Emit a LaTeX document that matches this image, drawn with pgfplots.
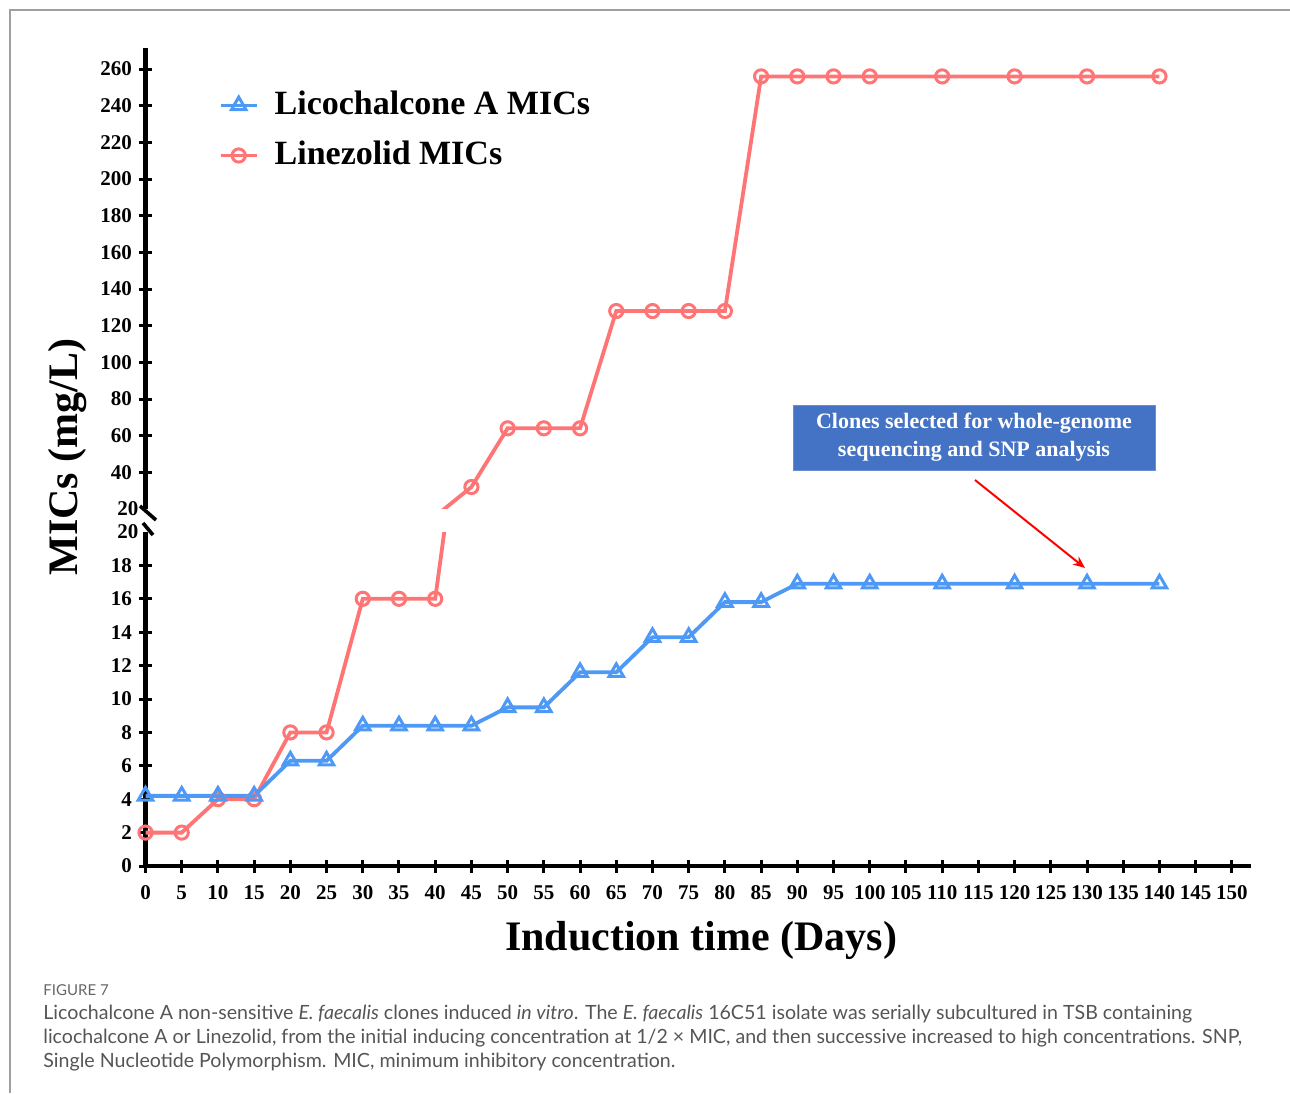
\documentclass[border=0pt]{standalone}
\usepackage{fontspec}
\setmainfont{Liberation Serif}
\newfontfamily\capfont{Lato}
\usepackage{pgfplots}
\usepackage{pgfplotstable}
\pgfplotsset{compat=1.18}
\usetikzlibrary{arrows.meta}
\definecolor{cblue}{RGB}{77,153,245}
\definecolor{cred}{RGB}{255,117,117}
\definecolor{boxblue}{RGB}{68,114,196}
\definecolor{capgray}{RGB}{85,85,85}

\pgfplotstableread{
x y
0 2
5 2
10 4
15 4
20 8
25 8
30 16
35 16
40 16
45 32
50 64
55 64
60 64
65 128
70 128
75 128
80 128
85 256
90 256
95 256
100 256
110 256
120 256
130 256
140 256
}\linezolid

\pgfplotstableread{
x y
0 4.2
5 4.2
10 4.2
15 4.2
20 6.3
25 6.3
30 8.4
35 8.4
40 8.4
45 8.4
50 9.5
55 9.5
60 11.6
65 11.6
70 13.7
75 13.7
80 15.8
85 15.8
90 16.9
95 16.9
100 16.9
110 16.9
120 16.9
130 16.9
140 16.9
}\licochalcone

\pgfplotsset{
 base/.style={scale only axis, width=552.6pt, xmin=0, xmax=152.6,
   tick align=outside,
   every tick/.style={black,line width=1.5pt},
   major tick length=6.5pt,
   tick label style={font=\fontsize{10.5}{12}\selectfont\bfseries},
   xticklabel style={yshift=-3pt},
   /pgf/number format/assume math mode=true,
   clip=true},
 redst/.style={color=cred, line width=1.9pt, mark=o, mark size=3.3pt,
   mark options={line width=1.5pt, solid}},
 bluest/.style={color=cblue, line width=1.9pt, mark=triangle, mark size=4.2pt,
   mark options={line width=1.5pt, solid}},
}

\begin{document}
\begin{tikzpicture}
\path[use as bounding box] (0,0) rectangle (645pt,546.5pt);
\draw[gray!75, line width=0.8pt] (5pt,0) -- (5pt,541.5pt) -- (645pt,541.5pt);

% lower part 0-20
\begin{axis}[base, at={(72.75pt,113.5pt)}, anchor=south west,
  height=167pt, ymin=0, ymax=20,
  axis x line=bottom, axis y line=left,
  x axis line style={line width=1.6pt,-},
  y axis line style={line width=2.3pt,-},
  xtick={0,5,...,150},
  ytick={0,2,...,18},
  extra y ticks={20},
  extra y tick style={major tick length=0pt},
]
\addplot[redst] table {\linezolid};
\addplot[bluest] table {\licochalcone};
\end{axis}

% upper part 20-260
\begin{axis}[base, at={(72.75pt,292pt)}, anchor=south west,
  height=230.5pt, ymin=20, ymax=271.5,
  axis x line=none, axis y line=left,
  y axis line style={line width=2.3pt,-},
  ytick={40,60,...,260},
  extra y ticks={20},
  extra y tick style={major tick length=0pt},
  legend style={at={(0.066,0.913)}, anchor=north west, draw=none, fill=none,
    inner sep=0pt, row sep=8pt,
    font=\fontsize{17}{20}\selectfont\bfseries,
    nodes={text height=12pt, text depth=3pt, inner sep=1pt}},
  legend cell align=left,
  legend image code/.code={\draw[mark repeat=2,mark phase=2,#1] plot coordinates {(0pt,0pt) (9pt,0pt) (18pt,0pt)}; \path (25pt,0pt);},
]
\addlegendimage{bluest}
\addplot[redst] table {\linezolid};
\legend{Licochalcone A MICs, Linezolid MICs}
\end{axis}

% axis break marks
\draw[line width=1.8pt] (70pt,293.5pt) -- (78pt,286.5pt);
\draw[line width=1.8pt] (71.5pt,285pt) -- (76.5pt,279pt);

% axis titles
\node[rotate=90, font=\fontsize{21}{24}\selectfont\bfseries] at (34pt,318pt) {MICs (mg/L)};
\node[font=\fontsize{21}{24}\selectfont\bfseries] at (350.5pt,76.5pt) {Induction time (Days)};

% annotation
\node[fill=boxblue, draw=boxblue!80!white, text=white, minimum width=181pt, minimum height=32.5pt,
  align=center, inner sep=2pt, font=\fontsize{11}{14}\selectfont\bfseries] at (487pt,327.75pt)
  {Clones selected for whole-genome\\sequencing and SNP analysis};
\draw[red, line width=1pt, -{Stealth[length=6pt,width=5pt]}] (487.5pt,306.5pt) -- (542.5pt,262.5pt);

% caption
\node[anchor=base west, inner sep=0pt, font=\capfont\fontsize{7.5}{8}\selectfont, text=black!60] at (21.5pt,49pt) {FIGURE 7};
\node[anchor=base west, inner sep=0pt, font=\capfont\fontsize{9.8}{11}\selectfont, text=capgray] at (21.5pt,37pt)
  {Licochalcone A non-sensitive \textit{E. faecalis} clones induced \textit{in vitro}. The \textit{E. faecalis} 16C51 isolate was serially subcultured in TSB containing};
\node[anchor=base west, inner sep=0pt, font=\capfont\fontsize{9.8}{11}\selectfont, text=capgray] at (21.5pt,25pt)
  {licochalcone A or Linezolid, from the initial inducing concentration at 1/2 × MIC, and then successive increased to high concentrations. SNP,};
\node[anchor=base west, inner sep=0pt, font=\capfont\fontsize{9.8}{11}\selectfont, text=capgray] at (21.5pt,13pt)
  {Single Nucleotide Polymorphism. MIC, minimum inhibitory concentration.};
\end{tikzpicture}
\end{document}
